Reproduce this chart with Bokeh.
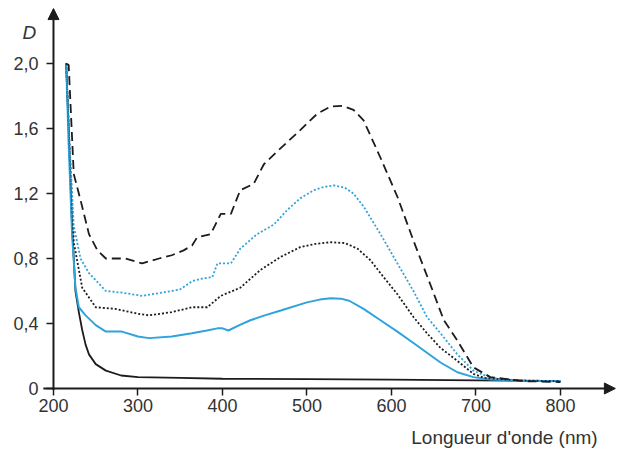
from bokeh.plotting import figure
from bokeh.models import Range1d, FixedTicker, Label, Arrow, NormalHead
from bokeh.embed import file_html
from bokeh.resources import INLINE

# Data (wavelength in nm, absorbance D)
wl_black_solid = [215, 218, 222, 226, 230, 234, 238, 242, 250, 262, 280, 300, 350, 400, 500, 600, 700, 800]
d_black_solid = [2.0, 1.6, 1.0, 0.6, 0.47, 0.36, 0.27, 0.21, 0.15, 0.11, 0.08, 0.07, 0.065, 0.06, 0.058, 0.055, 0.05, 0.045]

wl_blue_solid = [215, 218, 222, 226, 230, 238, 250, 262, 281, 300, 313, 340, 364, 380, 394, 400, 407, 420, 433,
                 450, 469, 500, 515, 528, 540, 550, 567, 587, 607, 626, 642, 658, 678, 697, 717, 750, 800]
d_blue_solid = [2.0, 1.5, 0.95, 0.62, 0.50, 0.45, 0.39, 0.35, 0.35, 0.32, 0.31, 0.32, 0.34, 0.355, 0.37, 0.37, 0.357,
                0.39, 0.42, 0.45, 0.48, 0.53, 0.547, 0.555, 0.553, 0.54, 0.49, 0.42, 0.35, 0.28, 0.22, 0.16, 0.10,
                0.07, 0.055, 0.048, 0.045]

wl_black_dot = [215, 219, 224, 234, 250, 273, 300, 313, 340, 364, 382, 398, 421, 445, 469, 492, 510, 528, 545, 560,
                575, 590, 607, 626, 642, 658, 678, 697, 710, 750, 800]
d_black_dot = [2.0, 1.5, 0.9, 0.62, 0.50, 0.49, 0.46, 0.45, 0.47, 0.50, 0.50, 0.57, 0.62, 0.73, 0.81, 0.87, 0.89, 0.90,
               0.895, 0.86, 0.79, 0.69, 0.58, 0.44, 0.34, 0.25, 0.17, 0.09, 0.065, 0.05, 0.045]

wl_blue_dot = [215, 219, 224, 232, 242, 262, 281, 305, 340, 350, 364, 374, 388, 394, 410, 421, 441, 461, 477, 492, 508,
               520, 532, 545, 555, 567, 587, 607, 626, 642, 658, 678, 697, 717, 750, 800]
d_blue_dot = [2.0, 1.5, 1.0, 0.8, 0.71, 0.60, 0.59, 0.57, 0.60, 0.61, 0.66, 0.675, 0.685, 0.77, 0.77, 0.86, 0.95, 1.01,
              1.10, 1.17, 1.22, 1.24, 1.25, 1.235, 1.2, 1.12, 0.95, 0.77, 0.60, 0.44, 0.34, 0.21, 0.11, 0.066, 0.05, 0.045]

wl_black_dash = [215, 218, 224, 232, 242, 252, 262, 285, 305, 325, 340, 354, 364, 370, 386, 398, 410, 421, 437, 449,
                 465, 492, 512, 528, 542, 555, 567, 587, 607, 626, 646, 662, 678, 697, 717, 757, 800]
d_black_dash = [2.0, 1.99, 1.32, 1.16, 0.95, 0.85, 0.80, 0.80, 0.77, 0.80, 0.82, 0.85, 0.88, 0.93, 0.95, 1.075, 1.075,
                1.22, 1.26, 1.38, 1.46, 1.59, 1.69, 1.735, 1.74, 1.715, 1.65, 1.42, 1.18, 0.91, 0.64, 0.42, 0.295,
                0.13, 0.07, 0.045, 0.04]

x_ticks = [200, 300, 400, 500, 600, 700, 800]
y_ticks = [0, 0.4, 0.8, 1.2, 1.6, 2.0]
y_tick_labels = ["0", "0,4", "0,8", "1,2", "1,6", "2,0"]

BLACK = "#1c1c1c"
BLUE = "#2ea3dc"
TXT = "#333333"
FONT = "Liberation Sans"

p = figure(width=617, height=449, output_backend="svg", toolbar_location=None,
           x_range=Range1d(137.3, 867.5), y_range=Range1d(-0.3754, 2.3877),
           min_border_left=0, min_border_right=0, min_border_top=0, min_border_bottom=0)
p.outline_line_color = None
p.xgrid.visible = False
p.ygrid.visible = False
p.background_fill_color = "white"
p.border_fill_color = "white"

for ax in (p.xaxis[0], p.yaxis[0]):
    ax.axis_line_color = None
    ax.major_tick_line_width = 1.5
    ax.major_tick_line_color = BLACK
    ax.major_tick_out = 7
    ax.major_tick_in = 0
    ax.minor_tick_line_color = None
    ax.major_label_text_font = FONT
    ax.major_label_text_font_size = "18px"
    ax.major_label_text_color = TXT

p.xaxis.fixed_location = 0
p.yaxis.fixed_location = 200
p.xaxis.ticker = FixedTicker(ticks=x_ticks)
p.xaxis.major_label_standoff = 4
p.yaxis.ticker = FixedTicker(ticks=y_ticks)
p.yaxis.major_label_overrides = {t: s for t, s in zip(y_ticks, y_tick_labels)}
p.yaxis.major_label_standoff = 8

# curves
p.line(wl_black_solid, d_black_solid, line_color=BLACK, line_width=1.8)
p.line(wl_blue_solid, d_blue_solid, line_color=BLUE, line_width=2)
p.line(wl_black_dot, d_black_dot, line_color=BLACK, line_width=1.8, line_dash="2 2")
p.line(wl_blue_dot, d_blue_dot, line_color=BLUE, line_width=1.8, line_dash="2 2")
p.line(wl_black_dash, d_black_dash, line_color=BLACK, line_width=1.8, line_dash="9 5")

# axis lines with arrow heads
p.add_layout(Arrow(x_start=188, y_start=0, x_end=865, y_end=0, line_color=BLACK, line_width=2,
                   end=NormalHead(size=11, fill_color=BLACK, line_color=BLACK)))
p.add_layout(Arrow(x_start=200, y_start=-0.01, x_end=200, y_end=2.338, line_color=BLACK, line_width=2,
                   end=NormalHead(size=11, fill_color=BLACK, line_color=BLACK)))

p.add_layout(Label(x=171.6, y=2.19, text="D", text_font=FONT, text_font_style="italic",
                   text_font_size="19px", text_color=TXT, text_align="center", text_baseline="middle"))
p.add_layout(Label(x=844, y=-0.30, text="Longueur d'onde (nm)", text_font=FONT,
                   text_font_size="19px", text_color=TXT, text_align="right", text_baseline="alphabetic"))

open("out.html", "w").write(file_html(p, INLINE))
